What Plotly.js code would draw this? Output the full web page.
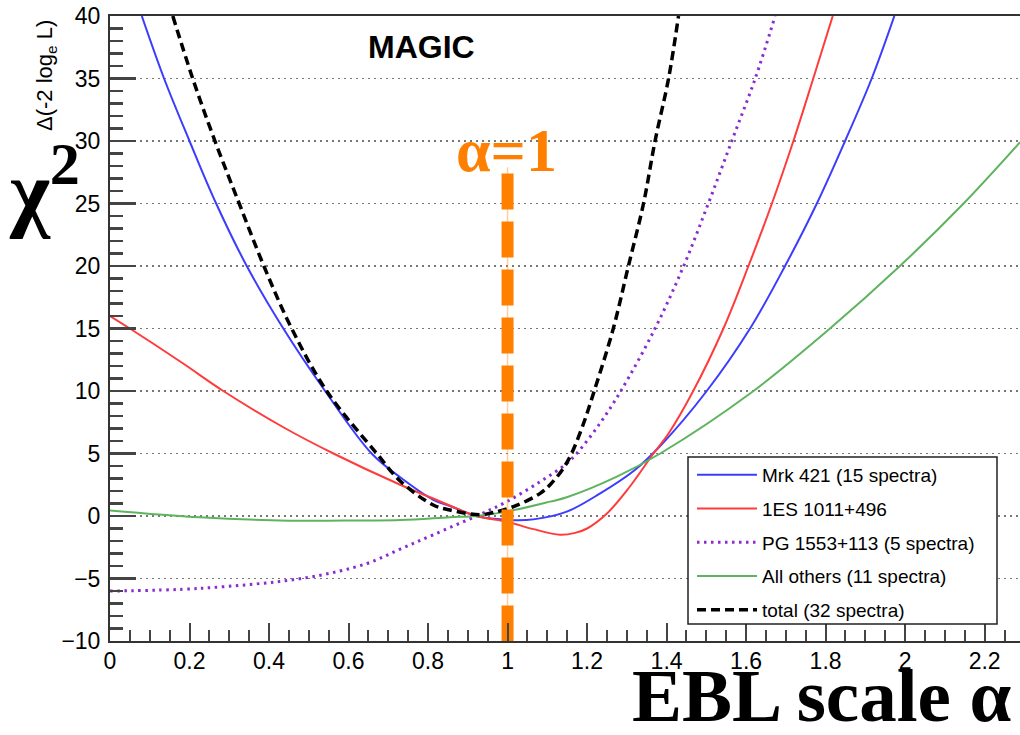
<!DOCTYPE html>
<html><head><meta charset="utf-8">
<script src="https://cdn.plot.ly/plotly-3.0.1.min.js"></script>
<style>html,body{margin:0;padding:0;background:#fff}#chart{width:1020px;height:735px}</style>
</head><body><div id="chart"></div>
<script>
// ---- data ----
const seriesNames = ["Mrk 421 (15 spectra)", "1ES 1011+496", "PG 1553+113 (5 spectra)", "All others (11 spectra)", "total (32 spectra)"];

const mrkX = [0.080, 0.136, 0.200, 0.267, 0.344, 0.436, 0.541, 0.658, 0.730, 0.813, 0.855, 0.922, 1.006, 1.065, 1.149, 1.233, 1.317, 1.384, 1.501, 1.610, 1.698, 1.778, 1.849, 1.916, 1.973];
const mrkY = [40, 35, 30, 25, 20, 15, 10, 5, 3.1, 1.3, 0.8, 0, -0.32, -0.27, 0.35, 1.81, 3.6, 5.6, 10, 15, 20, 25, 30, 35, 40];

const esX = [0, 0.050, 0.184, 0.285, 0.436, 0.562, 0.730, 0.813, 0.922, 0.998, 1.065, 1.132, 1.170, 1.200, 1.250, 1.304, 1.367, 1.405, 1.467, 1.543, 1.606, 1.665, 1.719, 1.769, 1.818];
const esY = [16, 15, 12.2, 10, 7.1, 5, 2.5, 1.4, 0, -0.45, -1.05, -1.5, -1.35, -1.0, 0.2, 2.2, 5, 6.6, 10, 15, 20, 25, 30, 35, 40];

const pgX = [0, 0.226, 0.495, 0.646, 0.730, 0.813, 0.922, 0.998, 1.082, 1.149, 1.174, 1.230, 1.285, 1.371, 1.443, 1.505, 1.564, 1.623, 1.673];
const pgY = [-6, -5.79, -4.93, -3.8, -2.65, -1.5, 0, 1.15, 2.75, 4.2, 5, 7.3, 10, 15, 20, 25, 30, 35, 40];

const othX = [0, 0.226, 0.450, 0.550, 0.730, 0.855, 0.922, 0.998, 1.107, 1.149, 1.275, 1.384, 1.610, 1.811, 1.987, 2.147, 2.289];
const othY = [0.45, -0.1, -0.37, -0.37, -0.32, -0.1, 0, 0.35, 1.15, 1.5, 3.15, 5.0, 9.8, 15, 20, 25, 29.9];

const totX = [0.158, 0.208, 0.264, 0.325, 0.387, 0.457, 0.545, 0.671, 0.730, 0.813, 0.855, 0.930, 0.964, 1.015, 1.082, 1.110, 1.140, 1.161, 1.190, 1.218, 1.266, 1.304, 1.342, 1.371, 1.405, 1.430];
const totY = [40, 35, 30, 25, 20, 15, 10, 5, 2.8, 0.88, 0.48, 0.1, 0.28, 0.75, 1.81, 2.6, 3.8, 5, 7.3, 10, 15, 20, 25, 30, 35, 40];

const alphaRef = [1, 1];          // EBL scale alpha = 1 marker line
const alphaRefY = [27.4, -10];    // its vertical extent (chi2 values)
const alphaGuideY = [27.9, -10];

const xTickVals = [0, 0.2, 0.4, 0.6, 0.8, 1, 1.2, 1.4, 1.6, 1.8, 2, 2.2];
const xTickText = ["0", "0.2", "0.4", "0.6", "0.8", "1", "1.2", "1.4", "1.6", "1.8", "2", "2.2"];
const yTickVals = [-10, -5, 0, 5, 10, 15, 20, 25, 30, 35, 40];

// ---- traces ----
function curve(x, y, name, color, width, dash, grp) {
  return {x: x, y: y, name: name, type: 'scatter', mode: 'lines',
    line: {color: color, width: width, dash: dash, shape: 'spline', smoothing: 1.0},
    legendgroup: grp, hoverinfo: 'skip'};
}
const traces = [
  curve(mrkX, mrkY, seriesNames[0], '#3c3cff', 2, 'solid', 'g1'),
  curve(esX, esY, seriesNames[1], '#ff3c3c', 2, 'solid', 'g2'),
  curve(pgX, pgY, seriesNames[2], '#8a2bd0', 3, '2.5px,4.5px', 'g3'),
  curve(othX, othY, seriesNames[3], '#5fb35f', 2, 'solid', 'g4'),
  curve(totX, totY, seriesNames[4], '#000000', 3.5, '9px,5px', 'g5'),
  {x: alphaRef, y: alphaGuideY, type: 'scatter', mode: 'lines', showlegend: false, hoverinfo: 'skip',
   line: {color: 'rgba(255,150,40,0.45)', width: 1.5}},
  {x: alphaRef, y: alphaRefY, type: 'scatter', mode: 'lines', showlegend: false, hoverinfo: 'skip',
   line: {color: '#ff8000', width: 12, dash: '36px,12px'}}
];

const W = 1020, H = 735, L = 110, R = 0, T = 16, B = 94;
const pw = W - L - R, ph = H - T - B;
const px = v => (v - L) / pw;
const py = v => (H - B - v) / ph;

function note(text, x, y, size, family, color, extra) {
  return Object.assign({text: text, xref: 'paper', yref: 'paper', x: px(x), y: py(y),
    xanchor: 'center', yanchor: 'middle', showarrow: false,
    font: {size: size, family: family, color: color}}, extra || {});
}
const SANS = 'Liberation Sans, Arial, sans-serif';
const SERIF = 'Liberation Serif, Times New Roman, serif';

const layout = {
  width: W, height: H,
  margin: {l: L, r: R, t: T, b: B, pad: 0},
  paper_bgcolor: '#fff', plot_bgcolor: '#fff',
  font: {family: SANS, color: '#000'},
  showlegend: true,
  legend: {x: px(692), y: py(456), xanchor: 'left', yanchor: 'top',
    bgcolor: 'rgba(0,0,0,0)', borderwidth: 0, font: {size: 19, family: SANS},
    traceorder: 'grouped', tracegroupgap: 6, itemwidth: 60},
  xaxis: {range: [0, 2.289], autorange: false, showgrid: false, zeroline: false,
    showline: true, linecolor: '#333', linewidth: 2, mirror: true,
    ticks: 'inside', ticklen: 18, tickwidth: 2, tickcolor: '#444',
    tickmode: 'array', tickvals: xTickVals, ticktext: xTickText,
    tickfont: {size: 23}, ticklabelstandoff: -2,
    minor: {dtick: 0.05, ticklen: 11, tickwidth: 2, tickcolor: '#444', ticks: 'inside', showgrid: false}},
  yaxis: {range: [-10, 40], autorange: false, zeroline: false,
    showline: true, linecolor: '#333', linewidth: 2,
    showgrid: true, gridcolor: '#777', gridwidth: 1.6, griddash: '2px,4px',
    ticks: 'inside', ticklen: 26, tickwidth: 2.5, tickcolor: '#444',
    tickmode: 'array', tickvals: yTickVals,
    tickfont: {size: 23}, ticklabelstandoff: 3,
    minor: {dtick: 1, ticklen: 13, tickwidth: 2.5, tickcolor: '#444', ticks: 'inside', showgrid: false}},
  shapes: [
    {type: 'rect', xref: 'paper', yref: 'paper', x0: px(688), x1: px(997), y0: py(624), y1: py(457),
     line: {color: '#222', width: 1.5}, fillcolor: '#fff', layer: 'above'}
  ],
  annotations: [
    note('<b>MAGIC</b>', 421, 47, 32, SANS, '#000'),
    note('<b>α=1</b>', 506, 150, 62, SERIF, '#ff8000'),
    note('Δ(-2 log<sub>e</sub> L)', 46, 76, 22, SANS, '#000', {textangle: -90}),
    note('<b>χ<sup>2</sup></b>', 44, 184, 86, SERIF, '#000'),
    note('<b>EBL scale α</b>', 822, 695, 75, SERIF, '#000', {height: 58, valign: 'middle'})
  ]
};

Plotly.newPlot('chart', traces, layout, {displayModeBar: false, staticPlot: true});
</script>
</body></html>
